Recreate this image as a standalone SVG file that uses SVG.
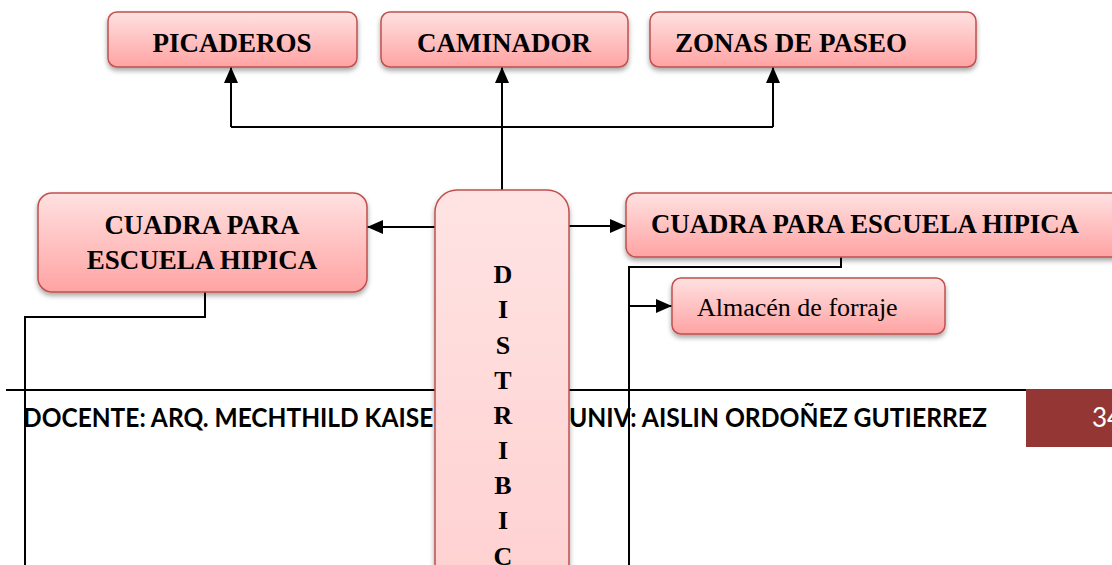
<svg xmlns="http://www.w3.org/2000/svg" width="1112" height="565" viewBox="0 0 1112 565">
<defs>
<linearGradient id="g" x1="0" y1="0" x2="0" y2="1">
<stop offset="0" stop-color="#FFE1E1"/>
<stop offset="1" stop-color="#FFA3A3"/>
</linearGradient>
<linearGradient id="gd" gradientUnits="userSpaceOnUse" x1="0" y1="190" x2="0" y2="565">
<stop offset="0" stop-color="#FFE3E3"/>
<stop offset="1" stop-color="#FFD2D2"/>
</linearGradient>
<filter id="sh" x="-10%" y="-20%" width="120%" height="150%">
<feDropShadow dx="0" dy="3" stdDeviation="2.5" flood-color="#000" flood-opacity="0.35"/>
</filter>
<marker id="ah" viewBox="0 0 16 14" refX="16" refY="7" markerWidth="16" markerHeight="14" markerUnits="userSpaceOnUse" orient="auto">
<path d="M0,0 L16,7 L0,14 Z" fill="#000"/>
</marker>
</defs>
<style>
.box{fill:url(#g);stroke:#C0504D;stroke-width:1.5;filter:url(#sh)}
.lbl{font-family:"Liberation Serif","Times New Roman",serif;font-weight:bold;font-size:27px;fill:#000}
.reg{font-family:"Liberation Serif","Times New Roman",serif;font-size:26px;fill:#000}
.ln{fill:none;stroke:#000;stroke-width:2}
.ft{font-family:Lato,"Liberation Sans",sans-serif;font-weight:bold;font-size:26px;fill:#000}
</style>

<g id="footer">
<line x1="6" y1="390" x2="1026" y2="390" stroke="#000" stroke-width="2"/>
<rect x="1026" y="389" width="90" height="58" fill="#943634"/>
<text x="1092" y="427" font-family="Lato,'Liberation Sans',sans-serif" font-size="26" fill="#fff">34</text>
<text class="ft" x="23" y="427" textLength="426" lengthAdjust="spacingAndGlyphs">DOCENTE: ARQ. MECHTHILD KAISER</text>
<text class="ft" x="569" y="427" textLength="418" lengthAdjust="spacingAndGlyphs">UNIV: AISLIN ORDOÑEZ GUTIERREZ</text>
</g>

<g id="connectors">
<polyline class="ln" points="502,190 502,127"/>
<polyline class="ln" points="231,127 773,127"/>
<polyline class="ln" points="231,127 231,67" marker-end="url(#ah)"/>
<polyline class="ln" points="502,127 502,67" marker-end="url(#ah)"/>
<polyline class="ln" points="773,127 773,67" marker-end="url(#ah)"/>
<polyline class="ln" points="435,227 367,227" marker-end="url(#ah)"/>
<polyline class="ln" points="569,226 626,226" marker-end="url(#ah)"/>
<polyline class="ln" points="205,292 205,317 25,317 25,565"/>
<polyline class="ln" points="841,257 841,267 629,267 629,565"/>
<polyline class="ln" points="629,306 672,306" marker-end="url(#ah)"/>
</g>

<g id="picaderos">
<rect class="box" x="108" y="12" width="249" height="55" rx="9"/>
<text class="lbl" x="232" y="52" text-anchor="middle">PICADEROS</text>
</g>
<g id="caminador">
<rect class="box" x="381" y="12" width="247" height="55" rx="9"/>
<text class="lbl" x="504" y="52" text-anchor="middle">CAMINADOR</text>
</g>
<g id="zonas">
<rect class="box" x="650" y="12" width="326" height="55" rx="9"/>
<text class="lbl" x="675" y="52">ZONAS DE PASEO</text>
</g>
<g id="cuadra-left">
<rect class="box" x="38" y="193" width="329" height="99" rx="14"/>
<text class="lbl" x="202" y="234" text-anchor="middle">CUADRA PARA</text>
<text class="lbl" x="202" y="269" text-anchor="middle">ESCUELA HIPICA</text>
</g>
<g id="distribucion">
<rect x="435" y="190" width="134" height="420" rx="22" fill="url(#gd)" stroke="#C0504D" stroke-width="1.5" filter="url(#sh)"/>
<g class="lbl" text-anchor="middle" style="font-size:26px">
<text x="503" y="283">D</text>
<text x="503" y="318">I</text>
<text x="503" y="354">S</text>
<text x="503" y="389">T</text>
<text x="503" y="424">R</text>
<text x="503" y="459">I</text>
<text x="503" y="494">B</text>
<text x="503" y="529">I</text>
<text x="503" y="565">C</text>
</g>
</g>
<g id="cuadra-right">
<rect class="box" x="626" y="193" width="500" height="64" rx="10"/>
<text class="lbl" x="651" y="233" textLength="428" lengthAdjust="spacingAndGlyphs">CUADRA PARA ESCUELA HIPICA</text>
</g>
<g id="almacen">
<rect class="box" x="672" y="278" width="273" height="56" rx="9"/>
<text class="reg" x="697" y="316">Almacén de forraje</text>
</g>
</svg>
